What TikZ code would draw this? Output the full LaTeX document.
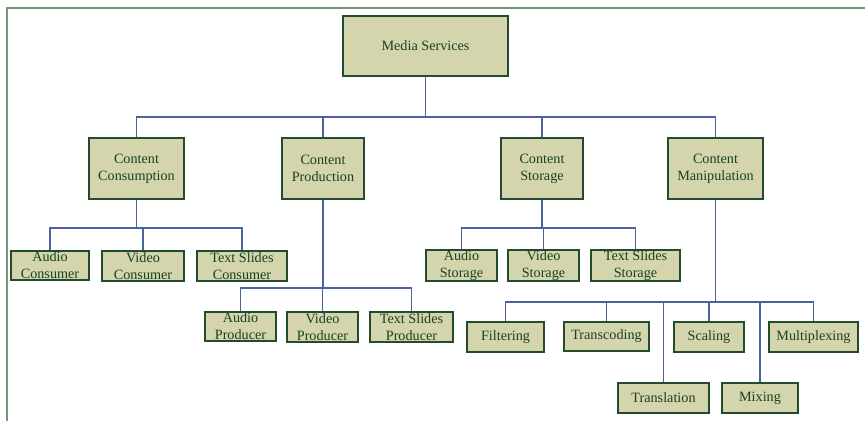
\documentclass[tikz,border=0pt]{standalone}
\usepackage{fontspec}
\setmainfont{Liberation Serif}
\begin{document}
\begin{tikzpicture}[x=1pt,y=-1pt,
  boxfill/.style={fill={rgb,255:red,212;green,213;blue,172}},
  bx/.style={boxfill,draw={rgb,255:red,35;green,75;blue,45},line width=1.1pt,
    inner sep=0pt,align=center,font=\fontsize{14.2pt}{17pt}\selectfont,
    text={rgb,255:red,25;green,65;blue,35}},
  conn/.style={draw={rgb,255:red,75;green,100;blue,160},line width=1.2pt},
  frame/.style={draw={rgb,255:red,120;green,150;blue,120},line width=1.4pt}
]
\useasboundingbox (0,0) rectangle (865,421);
\coordinate (fa) at (7,421);
\coordinate (fb) at (7,8);
\coordinate (fc) at (866,8);
\draw[frame] (fa) -- (fb) -- (fc);

\newcommand{\bxat}[6]{\node[bx,minimum width=#4-#2,minimum height=#5-#3] (#1) at ({(#2+#4)/2},{(#3+#5)/2}) {#6};}

\bxat{ms}{343}{16}{508}{76}{Media Services}
\bxat{cc}{89}{138}{184}{199}{Content\\Consumption}
\bxat{cp}{282}{138}{364}{199}{Content\\Production}
\bxat{cs}{501}{138}{583}{199}{Content\\Storage}
\bxat{cm}{668}{138}{763}{199}{Content\\Manipulation}

\bxat{ac}{11}{251}{89}{280}{Audio\\Consumer}
\bxat{vc}{102}{251}{184}{281}{Video\\Consumer}
\bxat{tc}{197}{251}{287}{281}{Text Slides\\Consumer}

\bxat{ap}{205}{312}{276}{341}{Audio\\Producer}
\bxat{vp}{287}{312}{358}{342}{Video\\Producer}
\bxat{tp}{370}{312}{453}{342}{Text Slides\\Producer}

\bxat{as}{426}{250}{497}{281}{Audio\\Storage}
\bxat{vs}{508}{250}{579}{281}{Video\\Storage}
\bxat{ts}{591}{250}{680}{281}{Text Slides\\Storage}

\bxat{fi}{467}{322}{544}{352}{Filtering}
\bxat{tr}{564}{322}{649}{351}{Transcoding}
\bxat{sc}{674}{322}{744}{352}{Scaling}
\bxat{mu}{769}{322}{858}{352}{Multiplexing}
\bxat{tl}{618}{383}{709}{413}{Translation}
\bxat{mi}{722}{383}{798}{413}{Mixing}

\begin{scope}[on background layer/.try]
\end{scope}
\foreach \c in {cc,cp,cs,cm}
  \draw[conn] (ms.south) -- (ms.south |- 0,117) -| (\c.north);
\foreach \c in {ac,vc,tc}
  \draw[conn] (cc.south) -- (cc.south |- 0,228) -| (\c.north);
\foreach \c in {ap,vp,tp}
  \draw[conn] (cp.south) -- (cp.south |- 0,288) -| (\c.north);
\foreach \c in {as,vs,ts}
  \draw[conn] (cs.south) -- (cs.south |- 0,228) -| (\c.north);
\foreach \c in {fi,tr,sc,mu,tl,mi}
  \draw[conn] (cm.south) -- (cm.south |- 0,302) -| (\c.north);
\end{tikzpicture}
\end{document}
